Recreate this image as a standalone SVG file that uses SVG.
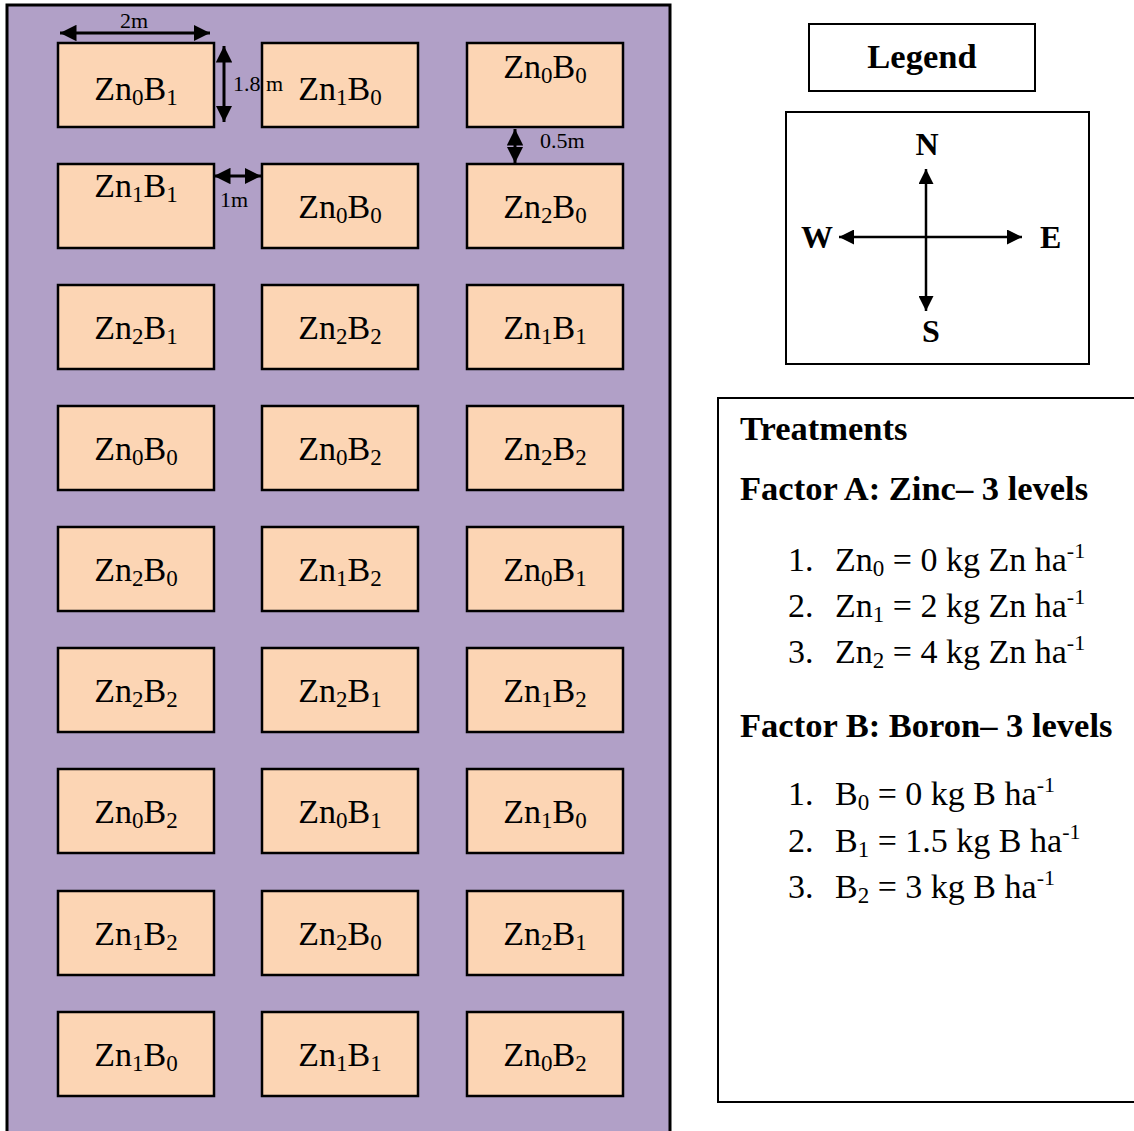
<svg xmlns="http://www.w3.org/2000/svg" width="1134" height="1131" viewBox="0 0 1134 1131">
<defs>
<style>
.plot{fill:#FCD5B4;stroke:#000;stroke-width:2.5}
.lbl{font-family:"Liberation Serif","Times New Roman",serif;font-size:34px;fill:#000;text-anchor:middle}
.sb{font-size:23px}
.sm{font-family:"Liberation Serif","Times New Roman",serif;font-size:22px;fill:#000}
.hd{font-family:"Liberation Serif","Times New Roman",serif;font-size:34.5px;font-weight:bold;fill:#000}
.cp{font-family:"Liberation Serif","Times New Roman",serif;font-size:32px;font-weight:bold;fill:#000}
.it{font-family:"Liberation Serif","Times New Roman",serif;font-size:34px;fill:#000}
.dim{stroke:#000;stroke-width:3;fill:none}
.cmp{stroke:#000;stroke-width:2.5;fill:none}
.box{fill:#fff;stroke:#000;stroke-width:2}
</style>
<marker id="ah" viewBox="0 0 10 10" refX="10" refY="5" markerWidth="5.5" markerHeight="5.5" markerUnits="strokeWidth" orient="auto-start-reverse"><path d="M0,0 L10,5 L0,10 z" fill="#000"/></marker>
<marker id="ac" viewBox="0 0 10 10" refX="10" refY="5" markerWidth="6" markerHeight="6" markerUnits="strokeWidth" orient="auto-start-reverse"><path d="M0,0 L10,5 L0,10 z" fill="#000"/></marker>
</defs>
<rect width="1134" height="1131" fill="#fff"/>
<g id="field">
<rect x="7" y="5" width="663" height="1140" fill="#B1A0C7" stroke="#000" stroke-width="3"/>
</g>
<g id="plots">
<g id="p1-1"><rect class="plot" x="58" y="43" width="156" height="84"/><text class="lbl" x="136" y="100">Zn<tspan class="sb" dy="5">0</tspan><tspan dy="-5">B</tspan><tspan class="sb" dy="5">1</tspan></text></g>
<g id="p1-2"><rect class="plot" x="262" y="43" width="156" height="84"/><text class="lbl" x="340" y="100">Zn<tspan class="sb" dy="5">1</tspan><tspan dy="-5">B</tspan><tspan class="sb" dy="5">0</tspan></text></g>
<g id="p1-3"><rect class="plot" x="467" y="43" width="156" height="84"/><text class="lbl" x="545" y="78">Zn<tspan class="sb" dy="5">0</tspan><tspan dy="-5">B</tspan><tspan class="sb" dy="5">0</tspan></text></g>
<g id="p2-1"><rect class="plot" x="58" y="164" width="156" height="84"/><text class="lbl" x="136" y="197">Zn<tspan class="sb" dy="5">1</tspan><tspan dy="-5">B</tspan><tspan class="sb" dy="5">1</tspan></text></g>
<g id="p2-2"><rect class="plot" x="262" y="164" width="156" height="84"/><text class="lbl" x="340" y="218">Zn<tspan class="sb" dy="5">0</tspan><tspan dy="-5">B</tspan><tspan class="sb" dy="5">0</tspan></text></g>
<g id="p2-3"><rect class="plot" x="467" y="164" width="156" height="84"/><text class="lbl" x="545" y="218">Zn<tspan class="sb" dy="5">2</tspan><tspan dy="-5">B</tspan><tspan class="sb" dy="5">0</tspan></text></g>
<g id="p3-1"><rect class="plot" x="58" y="285" width="156" height="84"/><text class="lbl" x="136" y="339">Zn<tspan class="sb" dy="5">2</tspan><tspan dy="-5">B</tspan><tspan class="sb" dy="5">1</tspan></text></g>
<g id="p3-2"><rect class="plot" x="262" y="285" width="156" height="84"/><text class="lbl" x="340" y="339">Zn<tspan class="sb" dy="5">2</tspan><tspan dy="-5">B</tspan><tspan class="sb" dy="5">2</tspan></text></g>
<g id="p3-3"><rect class="plot" x="467" y="285" width="156" height="84"/><text class="lbl" x="545" y="339">Zn<tspan class="sb" dy="5">1</tspan><tspan dy="-5">B</tspan><tspan class="sb" dy="5">1</tspan></text></g>
<g id="p4-1"><rect class="plot" x="58" y="406" width="156" height="84"/><text class="lbl" x="136" y="460">Zn<tspan class="sb" dy="5">0</tspan><tspan dy="-5">B</tspan><tspan class="sb" dy="5">0</tspan></text></g>
<g id="p4-2"><rect class="plot" x="262" y="406" width="156" height="84"/><text class="lbl" x="340" y="460">Zn<tspan class="sb" dy="5">0</tspan><tspan dy="-5">B</tspan><tspan class="sb" dy="5">2</tspan></text></g>
<g id="p4-3"><rect class="plot" x="467" y="406" width="156" height="84"/><text class="lbl" x="545" y="460">Zn<tspan class="sb" dy="5">2</tspan><tspan dy="-5">B</tspan><tspan class="sb" dy="5">2</tspan></text></g>
<g id="p5-1"><rect class="plot" x="58" y="527" width="156" height="84"/><text class="lbl" x="136" y="581">Zn<tspan class="sb" dy="5">2</tspan><tspan dy="-5">B</tspan><tspan class="sb" dy="5">0</tspan></text></g>
<g id="p5-2"><rect class="plot" x="262" y="527" width="156" height="84"/><text class="lbl" x="340" y="581">Zn<tspan class="sb" dy="5">1</tspan><tspan dy="-5">B</tspan><tspan class="sb" dy="5">2</tspan></text></g>
<g id="p5-3"><rect class="plot" x="467" y="527" width="156" height="84"/><text class="lbl" x="545" y="581">Zn<tspan class="sb" dy="5">0</tspan><tspan dy="-5">B</tspan><tspan class="sb" dy="5">1</tspan></text></g>
<g id="p6-1"><rect class="plot" x="58" y="648" width="156" height="84"/><text class="lbl" x="136" y="702">Zn<tspan class="sb" dy="5">2</tspan><tspan dy="-5">B</tspan><tspan class="sb" dy="5">2</tspan></text></g>
<g id="p6-2"><rect class="plot" x="262" y="648" width="156" height="84"/><text class="lbl" x="340" y="702">Zn<tspan class="sb" dy="5">2</tspan><tspan dy="-5">B</tspan><tspan class="sb" dy="5">1</tspan></text></g>
<g id="p6-3"><rect class="plot" x="467" y="648" width="156" height="84"/><text class="lbl" x="545" y="702">Zn<tspan class="sb" dy="5">1</tspan><tspan dy="-5">B</tspan><tspan class="sb" dy="5">2</tspan></text></g>
<g id="p7-1"><rect class="plot" x="58" y="769" width="156" height="84"/><text class="lbl" x="136" y="823">Zn<tspan class="sb" dy="5">0</tspan><tspan dy="-5">B</tspan><tspan class="sb" dy="5">2</tspan></text></g>
<g id="p7-2"><rect class="plot" x="262" y="769" width="156" height="84"/><text class="lbl" x="340" y="823">Zn<tspan class="sb" dy="5">0</tspan><tspan dy="-5">B</tspan><tspan class="sb" dy="5">1</tspan></text></g>
<g id="p7-3"><rect class="plot" x="467" y="769" width="156" height="84"/><text class="lbl" x="545" y="823">Zn<tspan class="sb" dy="5">1</tspan><tspan dy="-5">B</tspan><tspan class="sb" dy="5">0</tspan></text></g>
<g id="p8-1"><rect class="plot" x="58" y="891" width="156" height="84"/><text class="lbl" x="136" y="945">Zn<tspan class="sb" dy="5">1</tspan><tspan dy="-5">B</tspan><tspan class="sb" dy="5">2</tspan></text></g>
<g id="p8-2"><rect class="plot" x="262" y="891" width="156" height="84"/><text class="lbl" x="340" y="945">Zn<tspan class="sb" dy="5">2</tspan><tspan dy="-5">B</tspan><tspan class="sb" dy="5">0</tspan></text></g>
<g id="p8-3"><rect class="plot" x="467" y="891" width="156" height="84"/><text class="lbl" x="545" y="945">Zn<tspan class="sb" dy="5">2</tspan><tspan dy="-5">B</tspan><tspan class="sb" dy="5">1</tspan></text></g>
<g id="p9-1"><rect class="plot" x="58" y="1012" width="156" height="84"/><text class="lbl" x="136" y="1066">Zn<tspan class="sb" dy="5">1</tspan><tspan dy="-5">B</tspan><tspan class="sb" dy="5">0</tspan></text></g>
<g id="p9-2"><rect class="plot" x="262" y="1012" width="156" height="84"/><text class="lbl" x="340" y="1066">Zn<tspan class="sb" dy="5">1</tspan><tspan dy="-5">B</tspan><tspan class="sb" dy="5">1</tspan></text></g>
<g id="p9-3"><rect class="plot" x="467" y="1012" width="156" height="84"/><text class="lbl" x="545" y="1066">Zn<tspan class="sb" dy="5">0</tspan><tspan dy="-5">B</tspan><tspan class="sb" dy="5">2</tspan></text></g>
</g>
<g id="dimensions">
<line class="dim" x1="60" y1="33" x2="210" y2="33" marker-start="url(#ah)" marker-end="url(#ah)"/>
<text class="sm" x="134" y="28" text-anchor="middle">2m</text>
<line class="dim" x1="224" y1="46" x2="224" y2="122" marker-start="url(#ah)" marker-end="url(#ah)"/>
<text class="sm" x="233" y="91">1.8 m</text>
<line class="dim" x1="214" y1="176" x2="261" y2="176" marker-start="url(#ah)" marker-end="url(#ah)"/>
<text class="sm" x="220" y="207">1m</text>
<line class="dim" x1="515" y1="129" x2="515" y2="163" marker-start="url(#ah)" marker-end="url(#ah)"/>
<text class="sm" x="540" y="148">0.5m</text>
</g>
<g id="legend-title">
<rect class="box" x="809" y="24" width="226" height="67"/>
<text class="hd" x="922" y="68" text-anchor="middle">Legend</text>
</g>
<g id="compass">
<rect class="box" x="786" y="112" width="303" height="252"/>
<line class="cmp" x1="926" y1="169" x2="926" y2="311" marker-start="url(#ac)" marker-end="url(#ac)"/>
<line class="cmp" x1="839" y1="237" x2="1022" y2="237" marker-start="url(#ac)" marker-end="url(#ac)"/>
<text class="cp" x="927" y="155" text-anchor="middle">N</text>
<text class="cp" x="931" y="342" text-anchor="middle">S</text>
<text class="cp" x="801" y="248">W</text>
<text class="cp" x="1040" y="248">E</text>
</g>
<g id="treatments">
<rect class="box" x="718" y="398" width="430" height="704"/>
<text class="hd" x="740" y="440">Treatments</text>
<text class="hd" x="740" y="500">Factor A: Zinc– 3 levels</text>
<text class="it" x="788" y="571">1.</text>
<text class="it" x="835" y="571">Zn<tspan class="sb" dy="5">0</tspan><tspan dy="-5"> = 0 kg Zn ha</tspan><tspan font-size="22" dy="-13">-1</tspan></text>
<text class="it" x="788" y="617">2.</text>
<text class="it" x="835" y="617">Zn<tspan class="sb" dy="5">1</tspan><tspan dy="-5"> = 2 kg Zn ha</tspan><tspan font-size="22" dy="-13">-1</tspan></text>
<text class="it" x="788" y="663">3.</text>
<text class="it" x="835" y="663">Zn<tspan class="sb" dy="5">2</tspan><tspan dy="-5"> = 4 kg Zn ha</tspan><tspan font-size="22" dy="-13">-1</tspan></text>
<text class="hd" x="740" y="737">Factor B: Boron– 3 levels</text>
<text class="it" x="788" y="805">1.</text>
<text class="it" x="835" y="805">B<tspan class="sb" dy="5">0</tspan><tspan dy="-5"> = 0 kg B ha</tspan><tspan font-size="22" dy="-13">-1</tspan></text>
<text class="it" x="788" y="852">2.</text>
<text class="it" x="835" y="852">B<tspan class="sb" dy="5">1</tspan><tspan dy="-5"> = 1.5 kg B ha</tspan><tspan font-size="22" dy="-13">-1</tspan></text>
<text class="it" x="788" y="898">3.</text>
<text class="it" x="835" y="898">B<tspan class="sb" dy="5">2</tspan><tspan dy="-5"> = 3 kg B ha</tspan><tspan font-size="22" dy="-13">-1</tspan></text>
</g>
</svg>
